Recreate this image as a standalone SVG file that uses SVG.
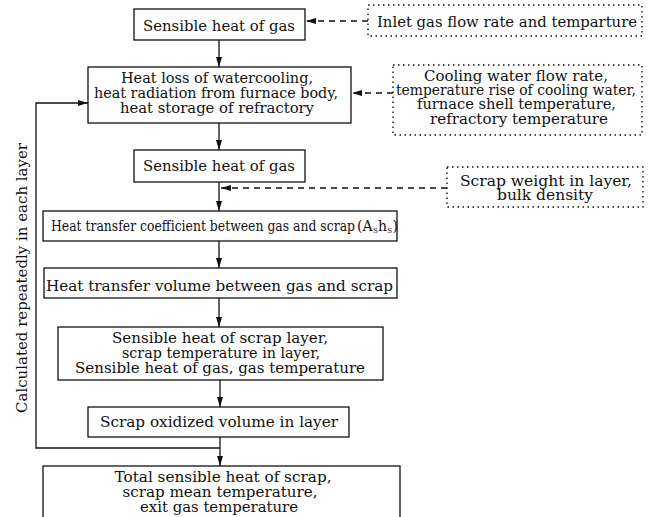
<svg xmlns="http://www.w3.org/2000/svg" width="659" height="517" viewBox="0 0 659 517">
<style>
text{font-family:"DejaVu Serif","Liberation Serif",serif;font-size:14px;fill:#111;}
.m{text-anchor:middle;}
.box{fill:#fff;stroke:#111;stroke-width:1.3;}
.dot{fill:#fff;stroke:#111;stroke-width:1.4;stroke-dasharray:1.5 3.5;}
.ln{fill:none;stroke:#111;stroke-width:1.3;}
.dash{fill:none;stroke:#111;stroke-width:1.3;stroke-dasharray:6 5;}
.sub{font-size:7px;}
</style>
<defs>
<marker id="ah" viewBox="0 0 10 6" refX="10" refY="3" markerWidth="10" markerHeight="6" markerUnits="userSpaceOnUse" orient="auto">
<path d="M0,0 L10,3 L0,6 Z" fill="#111"/>
</marker>
</defs>
<rect width="659" height="517" fill="#fff"/>

<g id="connectors">
<line class="ln" x1="219" y1="40" x2="219" y2="67" marker-end="url(#ah)"/>
<line class="ln" x1="219" y1="123" x2="219" y2="150" marker-end="url(#ah)"/>
<line class="ln" x1="219" y1="182" x2="219" y2="211" marker-end="url(#ah)"/>
<line class="ln" x1="219" y1="241" x2="219" y2="268" marker-end="url(#ah)"/>
<line class="ln" x1="219" y1="298" x2="219" y2="327" marker-end="url(#ah)"/>
<line class="ln" x1="220" y1="380" x2="220" y2="407" marker-end="url(#ah)"/>
<line class="ln" x1="220" y1="437" x2="220" y2="466" marker-end="url(#ah)"/>
<polyline class="ln" points="220,448 36,448 36,103 88,103" marker-end="url(#ah)"/>
<line class="dash" x1="368" y1="21" x2="306" y2="21" marker-end="url(#ah)"/>
<line class="dash" x1="393" y1="93" x2="352" y2="93" marker-end="url(#ah)"/>
<line class="dash" x1="447" y1="188" x2="221" y2="188" marker-end="url(#ah)"/>
</g>

<text transform="translate(27,278) rotate(-90)" class="m" textLength="270" lengthAdjust="spacingAndGlyphs">Calculated repeatedly in each layer</text>

<g id="n1">
<rect class="box" x="134" y="9" width="171" height="31"/>
<text x="219" y="31" class="m" textLength="152" lengthAdjust="spacingAndGlyphs">Sensible heat of gas</text>
</g>
<g id="n2">
<rect class="box" x="88" y="67" width="263" height="56"/>
<text x="217" y="83" class="m" textLength="192" lengthAdjust="spacingAndGlyphs">Heat loss of watercooling,</text>
<text x="216" y="98" class="m" textLength="244" lengthAdjust="spacingAndGlyphs">heat radiation from furnace body,</text>
<text x="217" y="113" class="m" textLength="194" lengthAdjust="spacingAndGlyphs">heat storage of refractory</text>
</g>
<g id="n3">
<rect class="box" x="134" y="150" width="171" height="32"/>
<text x="219" y="171" class="m" textLength="152" lengthAdjust="spacingAndGlyphs">Sensible heat of gas</text>
</g>
<g id="n4">
<rect class="box" x="43" y="211" width="354" height="30"/>
<text x="51" y="231" textLength="304" lengthAdjust="spacingAndGlyphs">Heat transfer coefficient between gas and scrap</text>
<text x="357" y="231" font-size="11">(A<tspan class="sub" dy="2" dx="0.3">S</tspan><tspan dy="-2" dx="0.3">h</tspan><tspan class="sub" dy="2" dx="0.3">S</tspan><tspan dy="-2" dx="0.3">)</tspan></text>
</g>
<g id="n5">
<rect class="box" x="44" y="268" width="353" height="30"/>
<text x="219.5" y="291" class="m" textLength="347" lengthAdjust="spacingAndGlyphs">Heat transfer volume between gas and scrap</text>
</g>
<g id="n6">
<rect class="box" x="58" y="327" width="325" height="53"/>
<text x="220" y="343" class="m" textLength="216" lengthAdjust="spacingAndGlyphs">Sensible heat of scrap layer,</text>
<text x="221" y="358" class="m" textLength="198" lengthAdjust="spacingAndGlyphs">scrap temperature in layer,</text>
<text x="220" y="373" class="m" textLength="290" lengthAdjust="spacingAndGlyphs">Sensible heat of gas, gas temperature</text>
</g>
<g id="n7">
<rect class="box" x="88" y="407" width="261" height="30"/>
<text x="219" y="427" class="m" textLength="238" lengthAdjust="spacingAndGlyphs">Scrap oxidized volume in layer</text>
</g>
<g id="n8">
<rect class="box" x="43" y="466" width="357" height="60"/>
<text x="223" y="482" class="m" textLength="217" lengthAdjust="spacingAndGlyphs">Total sensible heat of scrap,</text>
<text x="220" y="497" class="m" textLength="195" lengthAdjust="spacingAndGlyphs">scrap mean temperature,</text>
<text x="219" y="512" class="m" textLength="158" lengthAdjust="spacingAndGlyphs">exit gas temperature</text>
</g>

<g id="i1">
<rect class="dot" x="368" y="5" width="274" height="31"/>
<text x="507" y="27" class="m" textLength="260" lengthAdjust="spacingAndGlyphs">Inlet gas flow rate and temparture</text>
</g>
<g id="i2">
<rect class="dot" x="393" y="65" width="249" height="70"/>
<text x="516" y="81" class="m" textLength="184" lengthAdjust="spacingAndGlyphs">Cooling water flow rate,</text>
<text x="516" y="95" class="m" textLength="240" lengthAdjust="spacingAndGlyphs">temperature rise of cooling water,</text>
<text x="516.5" y="109" class="m" textLength="199" lengthAdjust="spacingAndGlyphs">furnace shell temperature,</text>
<text x="519" y="124" class="m" textLength="178" lengthAdjust="spacingAndGlyphs">refractory temperature</text>
</g>
<g id="i3">
<rect class="dot" x="447" y="167" width="196" height="40"/>
<text x="546" y="186" class="m" textLength="172" lengthAdjust="spacingAndGlyphs">Scrap weight in layer,</text>
<text x="545" y="200" class="m" textLength="96" lengthAdjust="spacingAndGlyphs">bulk density</text>
</g>
</svg>
